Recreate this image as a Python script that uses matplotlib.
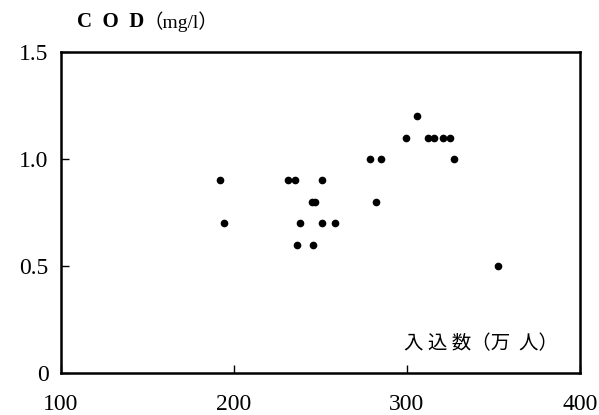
import matplotlib.pyplot as plt

# visitors (10k people) vs COD (mg/l)
visitors = [192, 194, 231, 235, 251, 245, 247, 238, 251, 258.5, 236.7, 245.5,
            278.6, 282, 285, 299.4, 305.7, 312.2, 315.6, 321.1, 324.7, 327, 352.7]
cod = [0.9, 0.7, 0.9, 0.9, 0.9, 0.8, 0.8, 0.7, 0.7, 0.7, 0.6, 0.6,
       1.0, 0.8, 1.0, 1.1, 1.2, 1.1, 1.1, 1.1, 1.1, 1.0, 0.5]

x_ticks = [100, 200, 300, 400]
y_ticks = [0, 0.5, 1.0, 1.5]
y_tick_labels = ['0', '0.5', '1.0', '1.5']

fig = plt.figure(figsize=(5.99, 4.15), dpi=100)
ax = fig.add_axes([0.102, 0.101, 0.866, 0.774])

ax.plot(visitors, cod, 'o', color='black', markersize=4.5)

ax.set_xlim(100, 400)
ax.set_ylim(0, 1.5)
ax.set_xticks(x_ticks)
ax.set_yticks(y_ticks)
ax.set_yticklabels(y_tick_labels)

for s in ax.spines.values():
    s.set_linewidth(1.8)

ax.tick_params(axis='both', direction='in', length=6, width=1, labelsize=17)
ax.tick_params(axis='x', pad=15)
ax.tick_params(axis='y', pad=9)
for lbl in ax.get_xticklabels() + ax.get_yticklabels():
    lbl.set_fontfamily('Liberation Serif')

# y-axis title above the plot
fig.text(0.128, 0.947, 'C  O  D', fontsize=15, fontweight='bold',
         family='Liberation Serif', va='center', ha='left')
fig.text(0.240, 0.947, '（mg/l）', fontsize=14,
         family=['Liberation Serif', 'Noto Sans CJK JP'], va='center', ha='left')

# x-axis title inside the plot, bottom right
ax.text(0.958, 0.093, '入 込 数（万  人）', transform=ax.transAxes, fontsize=14,
        family=['Noto Sans CJK JP', 'DejaVu Sans'], ha='right', va='center')

fig.savefig('out.png', dpi=100)
